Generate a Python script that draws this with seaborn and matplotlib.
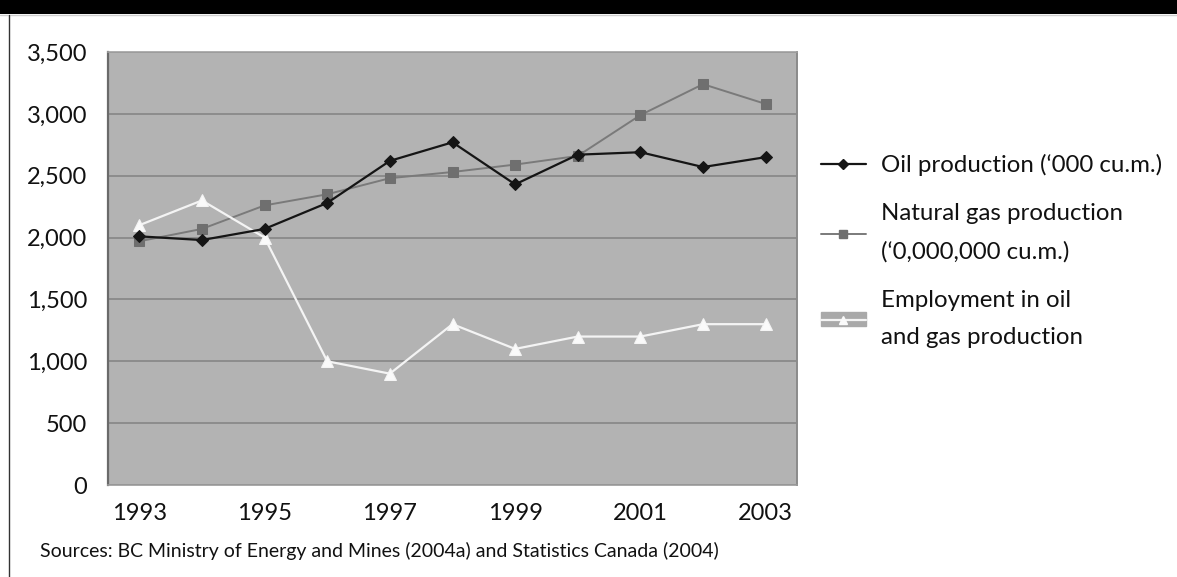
import matplotlib
matplotlib.use("Agg")
import matplotlib.pyplot as plt
from matplotlib.lines import Line2D
from matplotlib.patches import Patch, Rectangle
from matplotlib.legend_handler import HandlerTuple
from matplotlib.ticker import FuncFormatter, MultipleLocator
import seaborn as sns

# Series, 1993-2003
years = [1993, 1994, 1995, 1996, 1997, 1998, 1999, 2000, 2001, 2002, 2003]
oil_production = [2010, 1980, 2070, 2280, 2620, 2770, 2430, 2670, 2690, 2570, 2650]
gas_production = [1970, 2070, 2260, 2350, 2480, 2530, 2590, 2660, 2990, 3240, 3080]
employment = [2100, 2300, 2000, 1000, 900, 1300, 1100, 1200, 1200, 1300, 1300]

series_labels = [
    "Oil production (\u2018000 cu.m.)",
    "Natural gas production\n(\u20180,000,000 cu.m.)",
    "Employment in oil\nand gas production",
]
year_ticks = [1993, 1995, 1997, 1999, 2001, 2003]
source_note = "Sources: BC Ministry of Energy and Mines (2004a) and Statistics Canada (2004)"

sns.set_style("white")
plt.rcParams["font.family"] = ["Lato", "DejaVu Sans"]

W, H = 1177, 577
fig = plt.figure(figsize=(W / 100, H / 100), dpi=100)
fig.patch.set_facecolor("white")

# header band and left frame rule
fig.patches.append(Rectangle((0, 1 - 14 / H), 1, 14 / H, transform=fig.transFigure,
                             facecolor="black", edgecolor="none", zorder=0))
fig.add_artist(Line2D([0, 1], [1 - 15 / H, 1 - 15 / H], transform=fig.transFigure,
                      color="#cfcfcf", lw=1))
fig.add_artist(Line2D([9 / W, 9 / W], [0, 1 - 15 / H], transform=fig.transFigure,
                      color="#333333", lw=1))

ax = fig.add_axes([108 / W, 92 / H, 689 / W, 433 / H])
ax.set_facecolor("#b3b3b3")

sns.lineplot(x=years, y=oil_production, ax=ax, color="#151515", lw=1.6,
             marker="D", markersize=6, markeredgecolor="#151515", zorder=4)
sns.lineplot(x=years, y=gas_production, ax=ax, color="#7a7a7a", lw=1.4,
             marker="s", markersize=7.5, markeredgecolor="#6f6f6f",
             markerfacecolor="#6f6f6f", zorder=3)
sns.lineplot(x=years, y=employment, ax=ax, color="#f4f4f4", lw=1.6,
             marker="^", markersize=8, markeredgecolor="#f4f4f4",
             markerfacecolor="#fafafa", zorder=3)

ax.set_xlim(1992.5, 2003.5)
ax.set_ylim(0, 3500)
ax.set_xlabel("")
ax.set_ylabel("")

ax.yaxis.set_major_locator(MultipleLocator(500))
ax.yaxis.set_major_formatter(FuncFormatter(lambda v, p: f"{int(v):,}"))
ax.grid(axis="y", color="#8a8a8a", lw=1.3, zorder=1)
ax.set_axisbelow(True)

ax.set_xticks(year_ticks)
ax.set_xticklabels([str(y) for y in year_ticks])
ax.set_xticks([y + 0.5 for y in range(1992, 2004)], minor=True)
ax.tick_params(axis="x", which="major", length=0, pad=13, labelsize=17, colors="#111111")
ax.tick_params(axis="x", which="minor", length=5, width=1, color="#9a9a9a", direction="out")
ax.tick_params(axis="y", which="major", length=6, width=1, color="#9a9a9a", pad=9,
               labelsize=17, labelcolor="#111111")

for side, col, lw in [("left", "#6a6a6a", 1.6), ("right", "#8a8a8a", 1.4),
                      ("top", "#a0a0a0", 1.2), ("bottom", "#9a9a9a", 1.2)]:
    ax.spines[side].set_visible(True)
    ax.spines[side].set_color(col)
    ax.spines[side].set_linewidth(lw)

# legend
h_oil = Line2D([], [], color="#151515", lw=1.6, marker="D", markersize=5)
h_gas = Line2D([], [], color="#7a7a7a", lw=1.4, marker="s", markersize=6,
               markerfacecolor="#6f6f6f", markeredgecolor="#6f6f6f")
h_emp = (Patch(facecolor="#a9a9a9", edgecolor="#a9a9a9"),
         Line2D([], [], color="#f4f4f4", lw=1.6, marker="^", markersize=6,
                markerfacecolor="#fafafa", markeredgecolor="#fafafa"))
leg = fig.legend([h_oil, h_gas, h_emp], series_labels,
                 handler_map={tuple: HandlerTuple(ndivide=1, pad=0)},
                 loc="upper left", bbox_to_anchor=(811 / W, 1 - 144 / H),
                 frameon=False, fontsize=17.3, handlelength=1.9, handleheight=0.55,
                 handletextpad=0.6, labelspacing=1.15, borderaxespad=0)
for t in leg.get_texts():
    t.set_linespacing(1.95)
    t.set_color("#111111")

fig.text(40 / W, 1 - 551 / H, source_note, fontsize=14, color="#111111",
         ha="left", va="center")

fig.savefig("out.png", dpi=100)
